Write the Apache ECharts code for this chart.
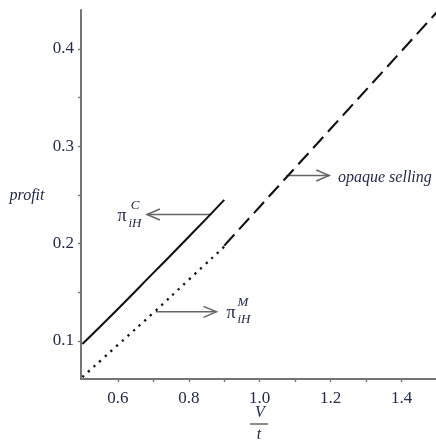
<!DOCTYPE html>
<html>
<head>
<meta charset="utf-8">
<script src="https://cdn.jsdelivr.net/npm/echarts@6.0.0/dist/echarts.min.js"></script>
<style>
  html, body { margin: 0; padding: 0; background: #fff; }
  #chart { width: 436px; height: 441px; }
</style>
</head>
<body>
<div id="chart"></div>
<script>
  // values
  var solidX = [0.5, 0.6, 0.7, 0.8, 0.9];
  var solidY = [0.097, 0.133, 0.170, 0.207, 0.245];      // pi^C_iH
  var dottedX = [0.5, 0.6, 0.7, 0.8, 0.9];
  var dottedY = [0.063, 0.096, 0.129, 0.163, 0.197];     // pi^M_iH
  var dashedX = [0.9, 1.0, 1.1, 1.2, 1.3, 1.4, 1.5];
  var dashedY = [0.198, 0.238, 0.278, 0.318, 0.358, 0.398, 0.438]; // opaque selling

  var xLabels = [0.6, 0.8, 1.0, 1.2, 1.4];
  var xTicks = [0.6, 0.7, 0.8, 0.9, 1.0, 1.1, 1.2, 1.3, 1.4];
  var yLabels = [0.1, 0.2, 0.3, 0.4];
  var yTicks = [0.1, 0.15, 0.2, 0.25, 0.3, 0.35, 0.4];

  // annotation arrows, in data coordinates
  var arrowFrom = [[0.861, 0.230], [0.707, 0.130], [1.075, 0.270]];
  var arrowTo = [[0.682, 0.230], [0.878, 0.130], [1.196, 0.270]];

  function pairs(xs, ys) {
    return xs.map(function (x, i) { return [x, ys[i]]; });
  }

  var txt = '#242a4a';
  var serif = '"Liberation Serif", "DejaVu Serif", serif';
  var axisColor = '#747474';

  var chart = echarts.init(document.getElementById('chart'));
  chart.setOption({
    animation: false,
    grid: { left: 81, right: 0, top: 10, bottom: 62 },
    xAxis: {
      type: 'value',
      min: 0.496,
      max: 1.497,
      splitLine: { show: false },
      axisLine: { lineStyle: { color: axisColor, width: 2 } },
      axisTick: { show: true, length: 3, customValues: xTicks, lineStyle: { color: axisColor, width: 1.4 } },
      axisLabel: {
        customValues: xLabels,
        margin: 11,
        color: txt,
        fontFamily: serif,
        fontSize: 17,
        formatter: function (v) { return v.toFixed(1); }
      }
    },
    yAxis: {
      type: 'value',
      min: 0.061,
      max: 0.44,
      splitLine: { show: false },
      axisLine: { lineStyle: { color: axisColor, width: 2 } },
      axisTick: { show: true, length: 3, customValues: yTicks, lineStyle: { color: axisColor, width: 1.4 } },
      axisLabel: {
        customValues: yLabels,
        margin: 7,
        color: txt,
        fontFamily: serif,
        fontSize: 17,
        formatter: function (v) { return v.toFixed(1); }
      }
    },
    series: [
      {
        type: 'line', showSymbol: false, smooth: true,
        data: pairs(solidX, solidY),
        lineStyle: { color: '#111', width: 2.1 }
      },
      {
        type: 'line', showSymbol: false, smooth: true,
        data: pairs(dottedX, dottedY),
        lineStyle: { color: '#111', width: 2.3, type: [2.3, 5.3] }
      },
      {
        type: 'line', showSymbol: false,
        data: pairs(dashedX, dashedY),
        lineStyle: { color: '#111', width: 2.1, type: [15, 7] }
      }
    ]
  });

  // arrows and text labels
  var g = [];
  arrowFrom.forEach(function (f, i) {
    var a = chart.convertToPixel({ gridIndex: 0 }, f);
    var b = chart.convertToPixel({ gridIndex: 0 }, arrowTo[i]);
    var dir = b[0] > a[0] ? 1 : -1;
    var st = { stroke: '#666', lineWidth: 1.5, fill: null };
    g.push({ type: 'polyline', shape: { points: [a, b] }, style: st });
    g.push({
      type: 'polyline',
      shape: { points: [[b[0] - dir * 13, b[1] - 5.5], b, [b[0] - dir * 13, b[1] + 5.5]] },
      style: st
    });
  });

  function label(text, x, y, size, italic, align) {
    return {
      type: 'text', x: x, y: y,
      style: {
        text: text, fill: txt, font: (italic ? 'italic ' : '') + size + 'px ' + serif,
        align: align || 'center', verticalAlign: 'middle'
      }
    };
  }

  g.push(label('π', 122, 216, 18, false));
  g.push(label('C', 135, 206, 13, true));
  g.push(label('iH', 135, 224, 13, true));

  g.push(label('π', 231, 313, 18, false));
  g.push(label('M', 243, 303, 13, true));
  g.push(label('iH', 244, 320, 13, true));

  g.push(label('opaque selling', 338, 178, 16, true, 'left'));
  g.push(label('profit', 27, 196, 16, true));

  g.push(label('V', 260, 413, 16, true));
  g.push({ type: 'line', shape: { x1: 250, y1: 424, x2: 268, y2: 424 }, style: { stroke: '#666', lineWidth: 1.5 } });
  g.push(label('t', 259, 435, 16, true));

  chart.setOption({ graphic: g });
</script>
</body>
</html>
